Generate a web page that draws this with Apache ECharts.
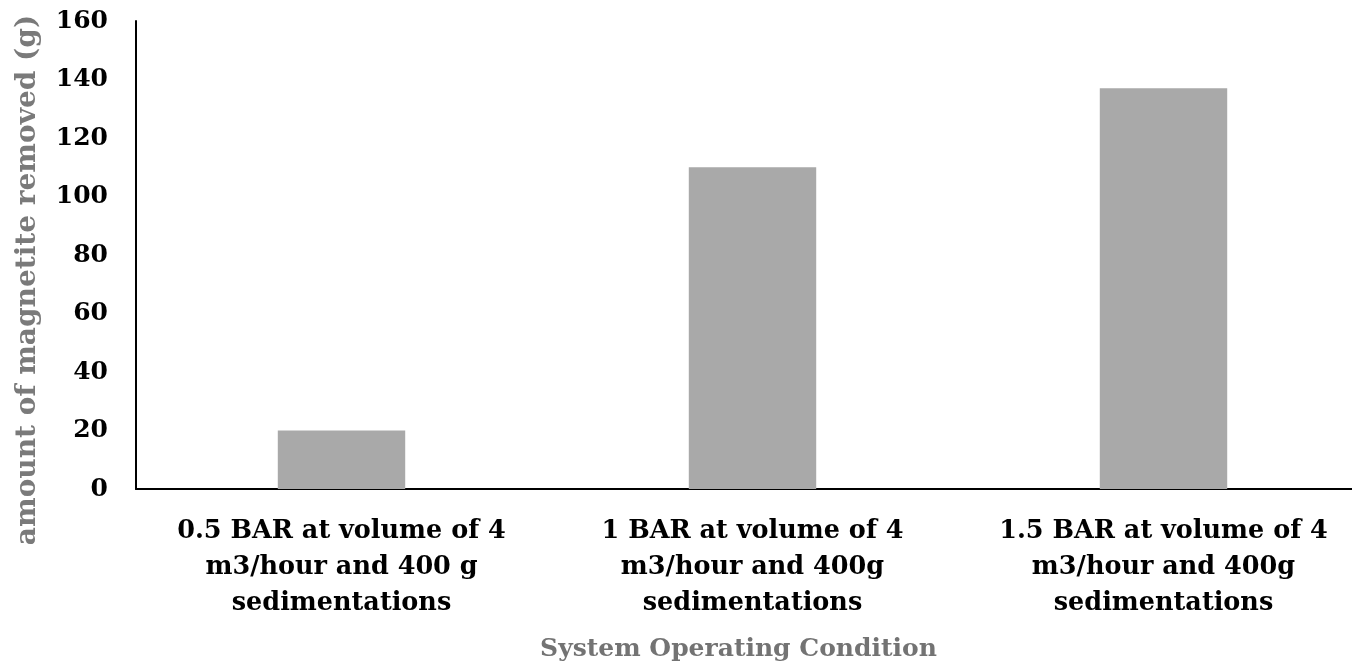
<!DOCTYPE html>
<html>
<head>
<meta charset="utf-8">
<script src="https://cdn.jsdelivr.net/npm/echarts@6/dist/echarts.min.js"></script>
<style>
  html, body { margin: 0; padding: 0; background: #fff; }
  #chart { width: 1352px; height: 666px; }
</style>
</head>
<body>
<div id="chart"></div>
<script>
// Operating conditions tested and the magnetite collected for each
const categories = [
  '0.5 BAR at volume of 4\nm3/hour and 400 g\nsedimentations',
  '1 BAR at volume of 4\nm3/hour and 400g\nsedimentations',
  '1.5 BAR at volume of 4\nm3/hour and 400g\nsedimentations'
];
const magnetiteRemoved = [20, 110, 137];
const yTicks = { min: 0, max: 160, interval: 20 };

const serif = '"DejaVu Serif", "Liberation Serif", serif';

const chart = echarts.init(document.getElementById('chart'), null, { renderer: 'canvas' });
chart.setOption({
  backgroundColor: '#ffffff',
  animation: false,
  grid: {
    left: 136, top: 21, width: 1233, height: 468,
    containLabel: false,
    outerBoundsMode: 'none'
  },
  xAxis: {
    type: 'category',
    data: categories,
    name: 'System Operating Condition',
    nameLocation: 'middle',
    nameGap: 148,
    nameTextStyle: {
      fontFamily: serif, fontWeight: 'bold', fontSize: 25, color: '#737373',
      padding: [0, 28, 0, 0]
    },
    axisLine: { lineStyle: { color: '#000', width: 2 } },
    axisTick: { show: false },
    axisLabel: {
      interval: 0,
      margin: 24,
      fontFamily: serif,
      fontWeight: 'bold',
      fontSize: 25.5,
      color: '#000',
      lineHeight: 36
    }
  },
  yAxis: {
    type: 'value',
    min: yTicks.min,
    max: yTicks.max,
    interval: yTicks.interval,
    name: 'amount of magnetite removed (g)',
    nameLocation: 'middle',
    nameGap: 94,
    nameTextStyle: {
      fontFamily: serif, fontWeight: 'bold', fontSize: 28, color: '#7a7a7a',
      padding: [0, 50, 0, 0]
    },
    axisLine: { show: true, lineStyle: { color: '#000', width: 2 } },
    axisTick: { show: false },
    splitLine: { show: false },
    axisLabel: {
      margin: 28,
      fontFamily: serif,
      fontWeight: 'bold',
      fontSize: 25,
      color: '#000'
    }
  },
  series: [{
    type: 'bar',
    data: magnetiteRemoved,
    barWidth: '31%',
    itemStyle: { color: '#a9a9a9' }
  }]
});
</script>
</body>
</html>
